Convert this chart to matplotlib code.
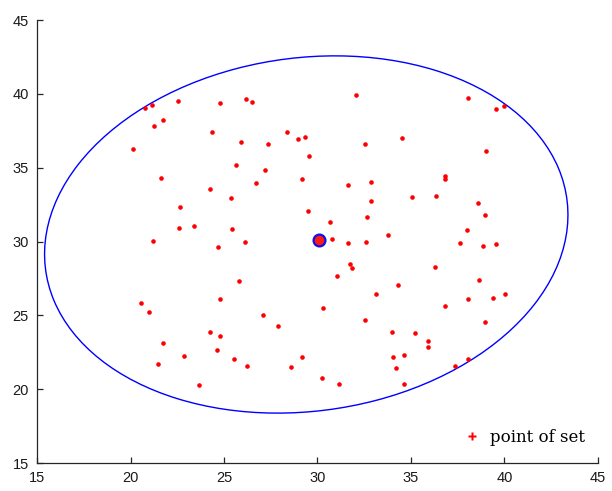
import numpy as np
import matplotlib
matplotlib.use("Agg")
import matplotlib.pyplot as plt
from matplotlib.patches import Ellipse
from matplotlib.lines import Line2D

# Point set
xs = [20.79, 21.15, 22.54, 24.79, 26.19, 26.48, 21.72, 21.27, 24.34, 25.91,
      20.12, 25.64, 26.73, 21.65, 24.23, 25.36, 22.65, 22.59, 23.40, 25.41,
      21.22, 26.11, 32.06, 28.35, 28.97, 29.33, 27.35, 32.56, 29.56, 27.17,
      29.17, 31.61, 32.86, 32.86, 29.47, 32.63, 30.68, 33.77, 30.79, 31.61,
      32.58, 38.03, 39.56, 39.97, 34.50, 38.99, 36.82, 36.80, 35.04, 36.35,
      38.58, 38.94, 37.98, 37.64, 39.53, 24.66, 25.82, 24.80, 20.58, 20.97,
      24.27, 24.77, 21.74, 24.61, 22.86, 25.52, 21.49, 26.25, 23.65, 31.76,
      31.83, 31.04, 33.11, 30.28, 27.10, 32.54, 27.87, 33.98, 29.17, 34.05,
      28.58, 34.18, 30.24, 31.13, 38.87, 36.28, 34.29, 38.65, 38.05, 39.39,
      40.01, 36.82, 38.97, 35.20, 35.91, 35.89, 34.61, 38.03, 37.37, 34.61]
ys = [39.04, 39.22, 39.49, 39.42, 39.67, 39.44, 38.24, 37.84, 37.39, 36.75,
      36.26, 35.18, 33.98, 34.32, 33.55, 32.96, 32.36, 30.89, 31.07, 30.84,
      30.01, 29.96, 39.92, 37.45, 36.98, 37.05, 36.58, 36.60, 35.81, 34.84,
      34.23, 33.86, 34.02, 32.78, 32.06, 31.68, 31.32, 30.46, 30.19, 29.92,
      29.98, 39.73, 38.95, 39.19, 37.00, 36.12, 34.45, 34.21, 32.99, 33.12,
      32.58, 31.77, 30.75, 29.90, 29.85, 29.64, 27.30, 26.08, 25.85, 25.24,
      23.85, 23.62, 23.10, 22.65, 22.22, 22.06, 21.70, 21.59, 20.28, 28.49,
      28.22, 27.66, 26.42, 25.49, 25.02, 24.70, 24.26, 23.85, 22.16, 22.16,
      21.50, 21.45, 20.75, 20.35, 29.67, 28.29, 27.07, 27.37, 26.10, 26.17,
      26.46, 25.65, 24.53, 23.82, 23.28, 22.87, 22.31, 22.06, 21.57, 20.33]

# Marked centre point
center_pt = (30.08, 30.12)

# Enclosing ellipse: centre and shape matrix [[sxx, sxy], [sxy, syy]]
ell_center = (29.40, 30.48)
sxx, sxy, syy = 195.9, 18.6, 146.4

x_ticks = [15, 20, 25, 30, 35, 40, 45]
y_ticks = [15, 20, 25, 30, 35, 40, 45]
legend_label = "point of set"

fig = plt.figure(figsize=(6.12, 4.91), dpi=100)
ax = fig.add_axes([0.0605, 0.057, 0.9165, 0.902])

# ellipse from eigen-decomposition of the shape matrix
S = np.array([[sxx, sxy], [sxy, syy]])
w, v = np.linalg.eigh(S)
angle = np.degrees(np.arctan2(v[1, 1], v[0, 1]))
ax.add_patch(Ellipse(ell_center, 2 * np.sqrt(w[1]), 2 * np.sqrt(w[0]),
                     angle=angle, fill=False, edgecolor='#0000ff', lw=1.0,
                     zorder=2))

ax.plot(xs, ys, 'o', color='#ff0000', ms=3.3, mec='none', zorder=3)
ax.plot([center_pt[0]], [center_pt[1]], 'o', mfc='#ff1a1a', mec='#1010e0',
        ms=8.5, mew=1.6, zorder=4)

ax.set_xlim(15, 45)
ax.set_ylim(15, 45)
ax.set_xticks(x_ticks)
ax.set_yticks(y_ticks)

for side in ('top', 'right'):
    ax.spines[side].set_visible(False)
for side in ('left', 'bottom'):
    ax.spines[side].set_color('#262626')
    ax.spines[side].set_linewidth(0.9)

ax.tick_params(direction='in', length=4, width=0.9, color='#262626',
               labelsize=10.5, labelcolor='#1a1a1a', pad=6)
for lab in ax.get_xticklabels() + ax.get_yticklabels():
    lab.set_family('Liberation Sans')

handle = Line2D([], [], linestyle='none', marker='P', color='#ff0000',
                ms=6, mec='none')
ax.legend([handle], [legend_label], loc='center right',
          bbox_to_anchor=(0.977, 0.058), frameon=False, borderpad=0,
          borderaxespad=0, handlelength=0.8, handletextpad=0.7,
          prop={'family': 'DejaVu Serif', 'size': 12})

fig.savefig("out.png", dpi=100)
